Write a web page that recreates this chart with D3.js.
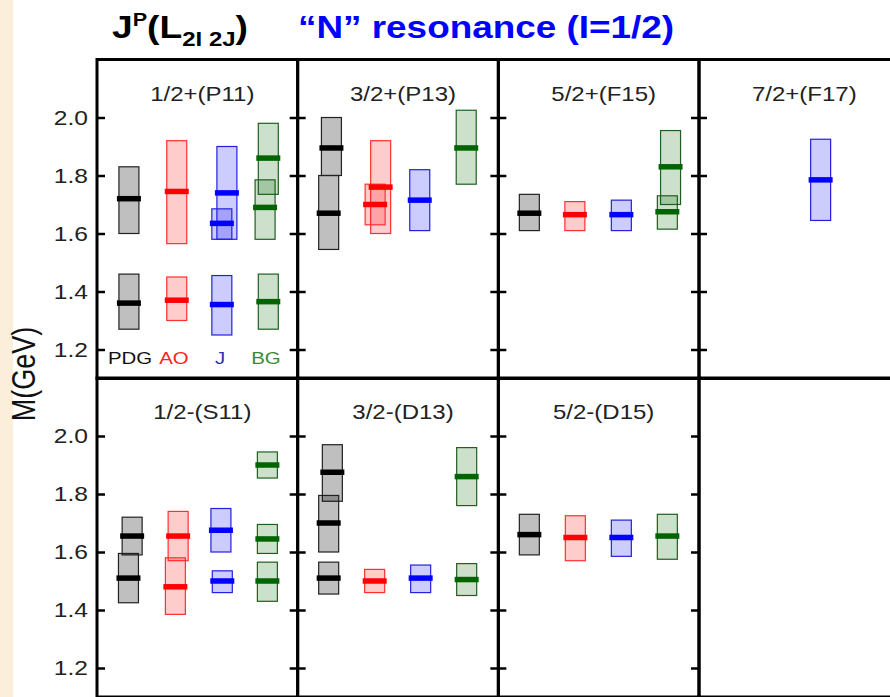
<!DOCTYPE html>
<html>
<head>
<meta charset="utf-8">
<script src="https://cdn.jsdelivr.net/npm/d3@7"></script>
<style>
  html, body { margin: 0; padding: 0; background: #fff; }
  svg { display: block; }
</style>
</head>
<body>
<div id="chart"></div>
<script>
// Panel labels (top row then bottom row)
const panelTitles = ['1/2+(P11)', '3/2+(P13)', '5/2+(F15)', '7/2+(F17)', '1/2-(S11)', '3/2-(D13)', '5/2-(D15)']
const sources = ['PDG', 'AO', 'J', 'BG']
const yTicks = [1.2, 1.4, 1.6, 1.8, 2.0]

// [source, column position, mass, low, high] (GeV)
const p11 = [
  ['PDG', 0.02, 1.72, 1.60, 1.83],
  ['PDG', 0.02, 1.36, 1.27, 1.46],
  ['AO', 1.06, 1.745, 1.565, 1.92],
  ['AO', 1.06, 1.37, 1.30, 1.45],
  ['J', 2.15, 1.74, 1.58, 1.90],
  ['J', 2.04, 1.635, 1.58, 1.685],
  ['J', 2.04, 1.355, 1.25, 1.455],
  ['BG', 3.05, 1.86, 1.735, 1.98],
  ['BG', 2.98, 1.69, 1.58, 1.785],
  ['BG', 3.05, 1.365, 1.27, 1.46]
]
const p13 = [
  ['PDG', 0.06, 1.895, 1.80, 2.00],
  ['PDG', 0.0, 1.67, 1.545, 1.80],
  ['AO', 1.13, 1.76, 1.60, 1.92],
  ['AO', 1.01, 1.70, 1.63, 1.77],
  ['J', 1.98, 1.715, 1.61, 1.82],
  ['BG', 2.99, 1.895, 1.77, 2.025]
]
const f15 = [
  ['PDG', 0.0, 1.67, 1.61, 1.735],
  ['AO', 0.99, 1.665, 1.61, 1.71],
  ['J', 2.0, 1.665, 1.61, 1.715],
  ['BG', 3.07, 1.83, 1.70, 1.955],
  ['BG', 3.0, 1.675, 1.615, 1.73]
]
const f17 = [
  ['J', 1.97, 1.785, 1.645, 1.925]
]
const s11 = [
  ['PDG', 0.09, 1.655, 1.59, 1.72],
  ['PDG', 0.01, 1.51, 1.425, 1.595],
  ['AO', 1.09, 1.655, 1.57, 1.74],
  ['AO', 1.03, 1.48, 1.385, 1.58],
  ['J', 2.02, 1.675, 1.60, 1.75],
  ['J', 2.05, 1.50, 1.46, 1.535],
  ['BG', 3.03, 1.90, 1.855, 1.945],
  ['BG', 3.03, 1.645, 1.595, 1.695],
  ['BG', 3.03, 1.50, 1.43, 1.565]
]
const d13 = [
  ['PDG', 0.08, 1.875, 1.775, 1.97],
  ['PDG', 0.0, 1.70, 1.60, 1.795],
  ['PDG', 0.0, 1.51, 1.455, 1.565],
  ['AO', 1.0, 1.50, 1.46, 1.54],
  ['J', 2.0, 1.51, 1.46, 1.555],
  ['BG', 3.0, 1.86, 1.76, 1.96],
  ['BG', 3.0, 1.505, 1.45, 1.56]
]
const d15 = [
  ['PDG', 0.0, 1.66, 1.59, 1.73],
  ['AO', 1.0, 1.65, 1.57, 1.725],
  ['J', 2.0, 1.65, 1.585, 1.71],
  ['BG', 3.0, 1.655, 1.575, 1.73]
]
const panelData = [p11, p13, f15, f17, s11, d13, d15, null]

// Styles per source
const boxFill = { PDG: 'rgba(0,0,0,0.25)', AO: 'rgba(255,0,0,0.2)', J: 'rgba(0,0,255,0.2)', BG: 'rgba(0,100,0,0.2)' }
const boxStroke = { PDG: '#222', AO: '#ff3030', J: '#2222dd', BG: '#1f601f' }
const barColor = { PDG: '#000', AO: '#ff0000', J: '#0000ff', BG: '#006400' }
const legendColor = { PDG: '#111', AO: '#ff2020', J: '#3030b0', BG: '#3a8a3a' }

const width = 890
const height = 697
const font = "'Liberation Sans', Arial, Helvetica, sans-serif"

// Grid geometry
const gridLeft = 97
const panelW = 200.67
const rowTops = [59.5, 378]
const rowH = 319

const svg = d3.select('#chart')
  .append('svg')
  .attr('width', width)
  .attr('height', height)

// Beige strip on the left edge
svg.append('rect')
  .attr('x', 0).attr('y', 0)
  .attr('width', 13).attr('height', height)
  .attr('fill', '#fbefdc')

// Column scale inside a panel
const xScale = d3.scaleLinear().domain([0, 3]).range([31, 169])

function yScaleFor(row) {
  return d3.scaleLinear().domain([1.1, 2.2]).range([rowTops[row] + rowH, rowTops[row]])
}

const boxW = 20
const barW = 24
const barH = 5.5

panelData.forEach((data, i) => {
  const row = Math.floor(i / 4)
  const col = i % 4
  const px = gridLeft + col * panelW
  const yScale = yScaleFor(row)

  const g = svg.append('g')
    .attr('transform', `translate(${px}, 0)`)

  // Panel frame
  g.append('rect')
    .attr('x', 0)
    .attr('y', rowTops[row])
    .attr('width', panelW)
    .attr('height', rowH)
    .attr('fill', 'none')
    .attr('stroke', '#000')
    .attr('stroke-width', 3)

  if (!data) return

  // Inward ticks, left and right
  const left = g.append('g')
    .call(d3.axisLeft(yScale).tickValues(yTicks).tickSize(-8).tickPadding(7.5)
      .tickFormat(col === 0 ? d3.format('.1f') : ''))
  left.select('.domain').remove()
  left.selectAll('line').attr('stroke', '#000').attr('stroke-width', 2.5)
  left.selectAll('text')
    .attr('font-family', font)
    .attr('font-size', 20.5)
    .attr('fill', '#222')
    .attr('transform', 'scale(1.2,1)')

  g.append('g')
    .attr('transform', `translate(${panelW}, 0)`)
    .call(d3.axisRight(yScale).tickValues(yTicks).tickSize(-8).tickFormat(''))
    .call(a => a.select('.domain').remove())
    .selectAll('line').attr('stroke', '#000').attr('stroke-width', 2.5)

  // Panel title
  g.append('text')
    .attr('transform', `translate(${panelW / 2 + 5}, ${rowTops[row] + 41}) scale(1.2,1)`)
    .attr('text-anchor', 'middle')
    .attr('font-family', font)
    .attr('font-size', 20)
    .attr('fill', '#222')
    .text(panelTitles[i])

  // Mass range boxes
  g.selectAll('.box')
    .data(data)
    .enter()
    .append('rect')
    .attr('class', 'box')
    .attr('x', d => xScale(d[1]) - boxW / 2)
    .attr('y', d => yScale(d[4]))
    .attr('width', boxW)
    .attr('height', d => yScale(d[3]) - yScale(d[4]))
    .attr('fill', d => boxFill[d[0]])
    .attr('stroke', d => boxStroke[d[0]])
    .attr('stroke-width', 1.2)

  // Central mass bars
  g.selectAll('.bar')
    .data(data)
    .enter()
    .append('rect')
    .attr('class', 'bar')
    .attr('x', d => xScale(d[1]) - barW / 2)
    .attr('y', d => yScale(d[2]) - barH / 2)
    .attr('width', barW)
    .attr('height', barH)
    .attr('fill', d => barColor[d[0]])

  // Source legend in the first panel
  if (i === 0) {
    g.selectAll('.legend')
      .data(sources)
      .enter()
      .append('text')
      .attr('class', 'legend')
      .attr('transform', (d, k) => `translate(${xScale(k) + (k === 0 ? 2 : 0)}, ${yScale(1.2) + 14}) scale(1.2,1)`)
      .attr('text-anchor', 'middle')
      .attr('font-family', font)
      .attr('font-size', 17)
      .attr('fill', d => legendColor[d])
      .text(d => d)
  }
})

// Y axis label
svg.append('text')
  .attr('transform', 'translate(24, 374) scale(1.2,1) rotate(-90)')
  .attr('text-anchor', 'middle')
  .attr('dominant-baseline', 'central')
  .attr('font-family', font)
  .attr('font-size', 27)
  .attr('fill', '#111')
  .text('M(GeV)')

// Title: J^P(L_2I 2J)
const t1 = svg.append('text')
  .attr('transform', 'translate(112, 38) scale(1.2,1)')
  .attr('font-family', font)
  .attr('font-weight', 'bold')
  .attr('font-size', 31)
  .attr('fill', '#000')
t1.append('tspan').text('J')
t1.append('tspan').attr('font-size', 18).attr('dy', -12).text('P')
t1.append('tspan').attr('dy', 12).text('(L')
t1.append('tspan').attr('font-size', 20).attr('dy', 8).text('2I 2J')
t1.append('tspan').attr('dy', -8).text(')')

// Title: "N" resonance
svg.append('text')
  .attr('transform', 'translate(298, 38) scale(1.19,1)')
  .attr('font-family', font)
  .attr('font-weight', 'bold')
  .attr('font-size', 31)
  .attr('fill', '#0000ff')
  .text('\u201CN\u201D resonance (I=1/2)')
</script>
</body>
</html>
